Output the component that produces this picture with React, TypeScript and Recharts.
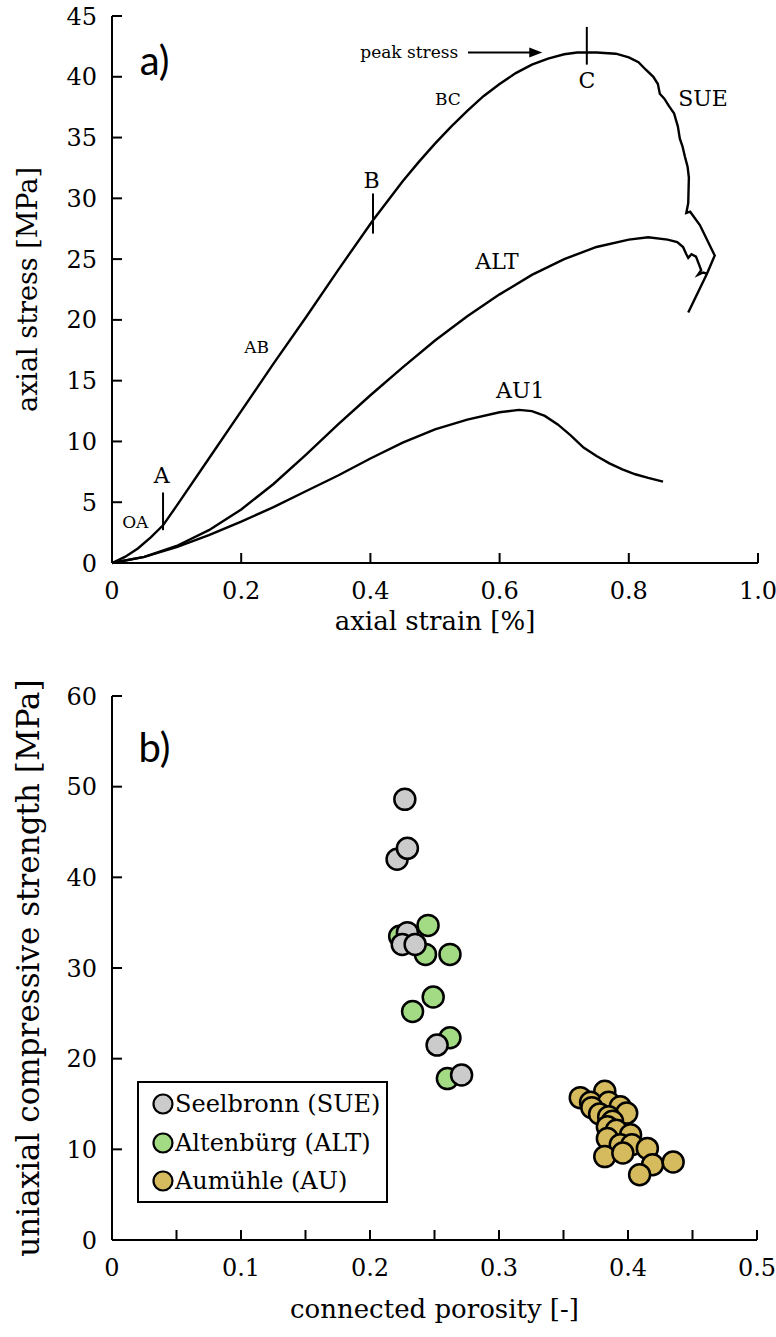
import React from 'react';
import { ComposedChart, ScatterChart, Line, Scatter, XAxis, YAxis, ReferenceLine } from 'recharts';

// ---------- panel a) stress-strain curves ----------
const sueStrain = [0, 0.02, 0.04, 0.06, 0.079, 0.1, 0.15, 0.2, 0.25, 0.3, 0.35, 0.404, 0.45, 0.475, 0.5, 0.525, 0.55, 0.575, 0.6, 0.625, 0.65, 0.675, 0.7, 0.72, 0.75, 0.78, 0.8, 0.815, 0.826, 0.838, 0.845, 0.848, 0.855, 0.862, 0.87, 0.876, 0.879, 0.883, 0.887, 0.891, 0.893, 0.892, 0.889, 0.895, 0.91, 0.933, 0.921, 0.892];
const sueStress = [0, 0.5, 1.2, 2.1, 3.1, 4.7, 8.6, 12.5, 16.4, 20.2, 24.1, 28.2, 31.4, 33.0, 34.5, 35.9, 37.2, 38.4, 39.4, 40.3, 41.0, 41.5, 41.85, 42.0, 42.0, 41.9, 41.6, 41.2, 40.6, 40.0, 39.4, 38.6, 38.2, 37.6, 37.0, 35.9, 34.9, 34.3, 33.4, 32.6, 31.7, 29.6, 28.8, 28.9, 27.8, 25.3, 23.8, 20.6];

const altStrain = [0, 0.05, 0.1, 0.15, 0.2, 0.25, 0.3, 0.35, 0.4, 0.45, 0.5, 0.55, 0.6, 0.65, 0.7, 0.75, 0.8, 0.83, 0.86, 0.875, 0.884, 0.889, 0.892, 0.897, 0.904, 0.912, 0.907, 0.915, 0.921];
const altStress = [0, 0.5, 1.4, 2.7, 4.4, 6.5, 8.9, 11.4, 13.8, 16.1, 18.3, 20.3, 22.1, 23.7, 25.0, 26.0, 26.6, 26.8, 26.6, 26.4, 26.0, 25.4, 25.1, 25.4, 25.2, 24.1, 23.7, 23.9, 23.8];

const au1Strain = [0, 0.05, 0.1, 0.15, 0.2, 0.25, 0.3, 0.35, 0.4, 0.45, 0.5, 0.55, 0.6, 0.63, 0.65, 0.67, 0.69, 0.71, 0.73, 0.75, 0.77, 0.79, 0.81, 0.83, 0.853];
const au1Stress = [0, 0.5, 1.3, 2.3, 3.4, 4.6, 5.9, 7.2, 8.6, 9.9, 11.0, 11.8, 12.4, 12.6, 12.5, 12.1, 11.4, 10.5, 9.5, 8.8, 8.2, 7.7, 7.3, 7.0, 6.7];

const strainTicks = [0, 0.2, 0.4, 0.6, 0.8, 1.0];
const stressTicks = [0, 5, 10, 15, 20, 25, 30, 35, 40, 45];

// annotation texts (data coordinates)
const curveLabels = [
  { x: 0.077, y: 7.2, text: 'A' },
  { x: 0.402, y: 31.5, text: 'B' },
  { x: 0.735, y: 39.7, text: 'C' },
  { x: 0.915, y: 38.2, text: 'SUE' },
  { x: 0.596, y: 24.8, text: 'ALT' },
  { x: 0.632, y: 14.2, text: 'AU1' },
];
const stageLabels = [
  { x: 0.036, y: 3.4, text: 'OA' },
  { x: 0.224, y: 17.8, text: 'AB' },
  { x: 0.52, y: 38.2, text: 'BC' },
];
const peakLabel = [{ x: 0.536, y: 42.0, text: 'peak stress' }];
const panelALabel = [{ x: 0.066, y: 41.4, text: 'a)' }];
const stageMarks = [
  { x: 0.079, y1: 2.7, y2: 5.8 },
  { x: 0.404, y1: 27.1, y2: 30.4 },
  { x: 0.735, y1: 41.0, y2: 44.1 },
];
const peakArrow = { x1: 0.551, x2: 0.666, y: 42.0 };

// ---------- panel b) UCS vs porosity ----------
const sueName = 'Seelbronn (SUE)';
const suePorosity = [0.227, 0.221, 0.229, 0.229, 0.225, 0.235, 0.252, 0.271];
const sueUcs = [48.6, 42.0, 43.2, 33.9, 32.6, 32.6, 21.5, 18.2];

const altName = 'Altenbürg (ALT)';
const altPorosity = [0.223, 0.245, 0.243, 0.262, 0.249, 0.233, 0.262, 0.260];
const altUcs = [33.5, 34.7, 31.5, 31.5, 26.8, 25.2, 22.3, 17.8];

const auName = 'Aumühle (AU)';
const auPorosity = [0.363, 0.382, 0.371, 0.385, 0.394, 0.399, 0.372, 0.378, 0.385, 0.388, 0.384, 0.391, 0.402, 0.384, 0.394, 0.403, 0.415, 0.382, 0.396, 0.419, 0.435, 0.409];
const auUcs = [15.7, 16.4, 15.2, 15.2, 14.7, 14.0, 14.6, 13.9, 13.6, 13.1, 12.5, 12.1, 11.6, 11.2, 10.5, 10.5, 10.1, 9.2, 9.6, 8.3, 8.6, 7.2];

const porosityTicks = [0, 0.05, 0.1, 0.15, 0.2, 0.25, 0.3, 0.35, 0.4, 0.45, 0.5];
const ucsTicks = [0, 10, 20, 30, 40, 50, 60];
const panelBLabel = [{ x: 0.033, y: 54.4, text: 'b)' }];

const toPoints = (xs: number[], ys: number[]) => xs.map((x, i) => ({ x, y: ys[i] }));

const SERIF = '"DejaVu Serif", serif';
const SANS = 'Lato, "Open Sans", sans-serif';
const GREY = '#cbcbcb';
const GREEN = '#a2db84';
const GOLD = '#d5bb5d';

const axisLine = { stroke: '#000', strokeWidth: 2 };
const tickLine = { stroke: '#000', strokeWidth: 2 };
const tickStyle = { fill: '#000', fontSize: 24, fontFamily: SERIF };

const fmtStrain = (v: number) => (v === 0 ? '0' : v.toFixed(1));
const fmtPorosity = (v: number) => {
  if (v === 0) return '0';
  const k = Math.round(v * 100);
  return k % 10 === 0 ? v.toFixed(1) : '';
};

const textShape = (fontSize: number, family: string, anchor: string) => (p: any) => (
  <text
    x={p.cx}
    y={p.cy}
    textAnchor={anchor}
    dominantBaseline="central"
    fontSize={fontSize}
    fontFamily={family}
    fill="#000"
  >
    {p.payload.text}
  </text>
);

const dotShape = (fill: string) => (p: any) => (
  <circle cx={p.cx} cy={p.cy} r={10.5} fill={fill} stroke="#000" strokeWidth={2.5} />
);

const arrowShape = (p: any) => {
  const { x1, y1, x2, y2 } = p;
  return (
    <g>
      <line x1={x1} y1={y1} x2={x2 - 8} y2={y2} stroke="#000" strokeWidth={2} />
      <polygon points={`${x2},${y2} ${x2 - 13},${y2 - 5} ${x2 - 13},${y2 + 5}`} fill="#000" />
    </g>
  );
};

function TopChart() {
  return (
    <ComposedChart width={776} height={650} margin={{ top: 16, right: 18, bottom: 12, left: 0 }}>
      <XAxis
        type="number"
        dataKey="x"
        domain={[0, 1]}
        ticks={strainTicks}
        interval={0}
        tickFormatter={fmtStrain}
        height={75}
        tickSize={-10}
        tickMargin={29}
        axisLine={axisLine}
        tickLine={tickLine}
        tick={tickStyle}
        label={{ value: 'axial strain [%]', position: 'insideBottom', offset: 8, style: { fill: '#000', fontSize: 26, fontFamily: SERIF } }}
      />
      <XAxis xAxisId="top" orientation="top" type="number" domain={[0, 1]} ticks={strainTicks} interval={0} height={0} tickSize={-10} axisLine={axisLine} tickLine={tickLine} tick={false} />
      <YAxis
        type="number"
        dataKey="y"
        domain={[0, 45]}
        ticks={stressTicks}
        interval={0}
        width={112}
        tickSize={-10}
        tickMargin={25}
        axisLine={axisLine}
        tickLine={tickLine}
        tick={tickStyle}
        label={{ value: 'axial stress [MPa]', angle: -90, position: 'insideLeft', offset: 27, style: { textAnchor: 'middle', fill: '#000', fontSize: 27, fontFamily: SERIF } }}
      />
      <YAxis yAxisId="right" orientation="right" type="number" domain={[0, 45]} ticks={stressTicks} interval={0} width={0} tickSize={-10} axisLine={axisLine} tickLine={tickLine} tick={false} />

      <Line data={toPoints(sueStrain, sueStress)} dataKey="y" type="linear" stroke="#000" strokeWidth={2.4} dot={false} isAnimationActive={false} />
      <Line data={toPoints(altStrain, altStress)} dataKey="y" type="linear" stroke="#000" strokeWidth={2.4} dot={false} isAnimationActive={false} />
      <Line data={toPoints(au1Strain, au1Stress)} dataKey="y" type="linear" stroke="#000" strokeWidth={2.4} dot={false} isAnimationActive={false} />

      {stageMarks.map((m, i) => (
        <ReferenceLine key={i} segment={[{ x: m.x, y: m.y1 }, { x: m.x, y: m.y2 }]} stroke="#000" strokeWidth={2} ifOverflow="visible" />
      ))}
      <ReferenceLine segment={[{ x: peakArrow.x1, y: peakArrow.y }, { x: peakArrow.x2, y: peakArrow.y }]} shape={arrowShape} ifOverflow="visible" />

      <Scatter data={curveLabels} dataKey="y" shape={textShape(22, SERIF, 'middle')} isAnimationActive={false} />
      <Scatter data={stageLabels} dataKey="y" shape={textShape(17, SERIF, 'middle')} isAnimationActive={false} />
      <Scatter data={peakLabel} dataKey="y" shape={textShape(17, SERIF, 'end')} isAnimationActive={false} />
      <Scatter data={panelALabel} dataKey="y" shape={textShape(40, SANS, 'middle')} isAnimationActive={false} />
    </ComposedChart>
  );
}

function BottomChart() {
  return (
    <ScatterChart width={776} height={687} margin={{ top: 46, right: 19, bottom: 17, left: 0 }}>
      <XAxis
        type="number"
        dataKey="x"
        domain={[0, 0.5]}
        ticks={porosityTicks}
        interval={0}
        tickFormatter={fmtPorosity}
        height={80}
        tickSize={-10}
        tickMargin={29}
        axisLine={axisLine}
        tickLine={tickLine}
        tick={tickStyle}
        label={{ value: 'connected porosity [-]', position: 'insideBottom', offset: 2, style: { fill: '#000', fontSize: 26, fontFamily: SERIF } }}
      />
      <XAxis xAxisId="top" orientation="top" type="number" domain={[0, 0.5]} ticks={porosityTicks} interval={0} height={0} tickSize={-10} axisLine={axisLine} tickLine={tickLine} tick={false} />
      <YAxis
        type="number"
        dataKey="y"
        domain={[0, 60]}
        ticks={ucsTicks}
        interval={0}
        width={112}
        tickSize={-10}
        tickMargin={25}
        axisLine={axisLine}
        tickLine={tickLine}
        tick={tickStyle}
        label={{ value: 'uniaxial compressive strength [MPa]', angle: -90, position: 'insideLeft', offset: 28, style: { textAnchor: 'middle', fill: '#000', fontSize: 31, fontFamily: SERIF } }}
      />
      <YAxis yAxisId="right" orientation="right" type="number" domain={[0, 60]} ticks={ucsTicks} interval={0} width={0} tickSize={-10} axisLine={axisLine} tickLine={tickLine} tick={false} />

      <Scatter name={altName} data={toPoints(altPorosity, altUcs)} shape={dotShape(GREEN)} isAnimationActive={false} />
      <Scatter name={sueName} data={toPoints(suePorosity, sueUcs)} shape={dotShape(GREY)} isAnimationActive={false} />
      <Scatter name={auName} data={toPoints(auPorosity, auUcs)} shape={dotShape(GOLD)} isAnimationActive={false} />
      <Scatter data={panelBLabel} shape={textShape(40, SANS, 'middle')} isAnimationActive={false} />
    </ScatterChart>
  );
}

const legendItems = [
  { name: sueName, color: GREY },
  { name: altName, color: GREEN },
  { name: auName, color: GOLD },
];

function LegendBox() {
  return (
    <div
      style={{
        position: 'absolute',
        left: 137,
        top: 1081,
        width: 247,
        height: 116,
        border: '2px solid #000',
        background: '#fff',
        paddingTop: 2,
        boxSizing: 'content-box',
      }}
    >
      {legendItems.map((it) => (
        <div key={it.name} style={{ display: 'flex', alignItems: 'center', height: 38.5, paddingLeft: 13 }}>
          <svg width={22} height={22} style={{ flex: 'none' }}>
            <circle cx={11} cy={11} r={9.5} fill={it.color} stroke="#000" strokeWidth={2.2} />
          </svg>
          <span style={{ fontFamily: SERIF, fontSize: 24, color: '#000', marginLeft: 1, whiteSpace: 'nowrap' }}>{it.name}</span>
        </div>
      ))}
    </div>
  );
}

export default function App() {
  return (
    <div style={{ position: 'absolute', left: 0, top: 0, width: 776, height: 1337, background: '#fff' }}>
      <div style={{ position: 'absolute', left: 0, top: 0 }}>
        <TopChart />
      </div>
      <div style={{ position: 'absolute', left: 0, top: 650 }}>
        <BottomChart />
      </div>
      <LegendBox />
    </div>
  );
}
